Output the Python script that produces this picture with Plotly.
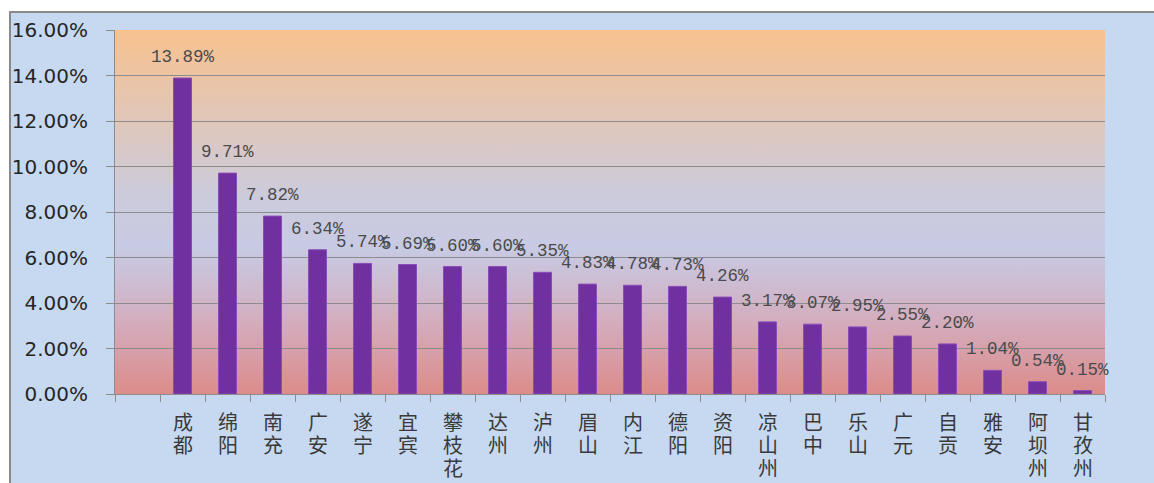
import base64
import plotly.graph_objects as go

categories = ["成都", "绵阳", "南充", "广安", "遂宁", "宜宾", "攀枝花", "达州", "泸州", "眉山",
              "内江", "德阳", "资阳", "凉山州", "巴中", "乐山", "广元", "自贡", "雅安", "阿坝州", "甘孜州"]
values = [13.89, 9.71, 7.82, 6.34, 5.74, 5.69, 5.60, 5.60, 5.35, 4.83,
          4.78, 4.73, 4.26, 3.17, 3.07, 2.95, 2.55, 2.20, 1.04, 0.54, 0.15]
y_ticks = [0, 0.02, 0.04, 0.06, 0.08, 0.10, 0.12, 0.14, 0.16]

# leading empty category slot, as in the original
x_cats = [" "] + categories
y_vals = [None] + [v / 100 for v in values]

BAR = "#7030A0"
GRID = "#8C8C8C"
OUTER = "#C6D9F1"

svg = """<svg xmlns='http://www.w3.org/2000/svg' width='100' height='100' preserveAspectRatio='none'>
<defs><linearGradient id='g' x1='0' y1='0' x2='0' y2='1'>
<stop offset='0' stop-color='#F8C18E'/>
<stop offset='0.22' stop-color='#E3C6B5'/>
<stop offset='0.45' stop-color='#CCCBDC'/>
<stop offset='0.6' stop-color='#C8CAE4'/>
<stop offset='0.8' stop-color='#D3ADBE'/>
<stop offset='1' stop-color='#DC8C8A'/>
</linearGradient></defs>
<rect x='0' y='0' width='100' height='100' fill='url(#g)'/></svg>"""
svg_uri = "data:image/svg+xml;base64," + base64.b64encode(svg.encode()).decode()

fig = go.Figure()
fig.add_trace(go.Bar(
    x=x_cats, y=y_vals, width=0.4,
    marker=dict(color=BAR, line=dict(color="#8A4CB8", width=1)),
    hoverinfo="skip",
))

# value labels above the bars
for c, v in zip(categories, values):
    fig.add_annotation(
        x=c, y=v / 100, xref="x", yref="y", text=f"{v:.2f}%",
        showarrow=False, yanchor="bottom", yshift=9,
        font=dict(family="Liberation Mono", size=17.5, color="#4A4A4A"),
    )

# category labels, written vertically one character per row
for c in categories:
    for i, ch in enumerate(c):
        fig.add_annotation(
            x=c, y=0, xref="x", yref="paper", text=ch,
            showarrow=False, yanchor="middle", yshift=-27 - 23 * i,
            height=22, valign="middle",
            font=dict(family="Noto Sans CJK SC", size=20, color="#3A3A3A"),
        )

W, H = 1154, 483
L, R, T, B = 115, 49, 30, 89
pw, ph = W - L - R, H - T - B

def px2x(p):
    return (p - L) / pw

def py2y(p):
    return (H - B - p) / ph

shapes = [
    dict(type="rect", xref="paper", yref="paper", x0=px2x(-5), x1=px2x(W + 5),
         y0=py2y(11), y1=py2y(-5), fillcolor="white", line=dict(width=0), layer="below"),
    dict(type="rect", xref="paper", yref="paper", x0=px2x(-5), x1=px2x(9),
         y0=py2y(H + 5), y1=py2y(-5), fillcolor="white", line=dict(width=0), layer="below"),
    dict(type="line", xref="paper", yref="paper", x0=px2x(9), x1=px2x(W + 5),
         y0=py2y(12), y1=py2y(12), line=dict(color="#8A8A8A", width=2), layer="below"),
    dict(type="line", xref="paper", yref="paper", x0=px2x(10), x1=px2x(10),
         y0=py2y(12), y1=py2y(H + 5), line=dict(color="#8A8A8A", width=2), layer="below"),
]

fig.update_layout(
    width=W, height=H,
    margin=dict(l=L, r=R, t=T, b=B),
    paper_bgcolor=OUTER,
    plot_bgcolor=OUTER,
    showlegend=False,
    shapes=shapes,
    images=[dict(source=svg_uri, xref="paper", yref="paper", x=0, y=1, sizex=1, sizey=1,
                 xanchor="left", yanchor="top", sizing="stretch", layer="below")],
    xaxis=dict(
        type="category", categoryorder="array", categoryarray=x_cats,
        range=[-0.5, len(x_cats) - 0.5],
        tickson="boundaries", ticks="outside", ticklen=7, tickcolor=GRID,
        showticklabels=False,
        showline=True, linecolor=GRID, linewidth=1,
        showgrid=False,
    ),
    yaxis=dict(
        range=[0, 0.16], tickvals=y_ticks, tickformat=".2%",
        ticks="outside", ticklen=8, tickcolor=GRID,
        showline=True, linecolor=GRID, linewidth=1,
        showgrid=True, gridcolor=GRID, gridwidth=1,
        zeroline=False,
        tickfont=dict(family="DejaVu Sans", size=20, color="#262626"),
        ticklabelstandoff=14,
    ),
)

fig.write_html(
    "out.html",
    config={"displayModeBar": False},
    post_script="document.body.style.margin='0';document.body.style.overflow='hidden';",
)
